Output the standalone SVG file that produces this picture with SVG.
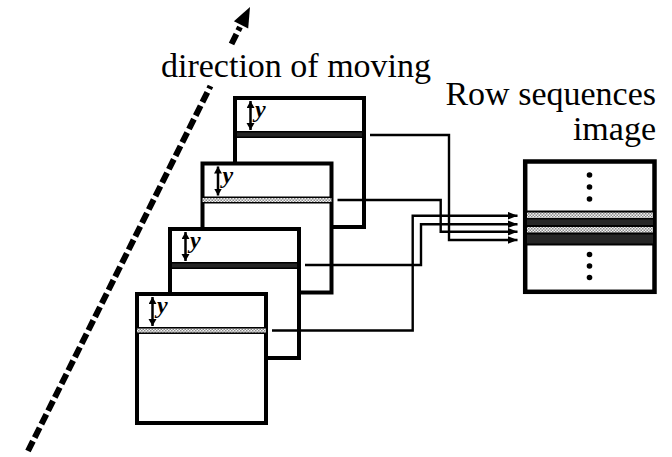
<svg xmlns="http://www.w3.org/2000/svg" width="672" height="457" viewBox="0 0 672 457">
<defs>
<pattern id="dots" width="3" height="3" patternUnits="userSpaceOnUse">
<rect width="3" height="3" fill="#f2f2f2"/>
<rect width="1.5" height="1.5" fill="#8a8a8a"/>
<rect x="1.5" y="1.5" width="1.5" height="1.5" fill="#8a8a8a"/>
</pattern>
<marker id="ah" markerUnits="userSpaceOnUse" markerWidth="11" markerHeight="9" refX="10" refY="4" orient="auto">
<path d="M0,0 L10,4 L0,8 Z" fill="#000"/>
</marker>
<marker id="yh" markerUnits="userSpaceOnUse" markerWidth="9" markerHeight="9" refX="7" refY="4" orient="auto-start-reverse">
<path d="M0,0 L7,4 L0,8 Z" fill="#000"/>
</marker>
</defs>
<style>
.frame{fill:#fff;stroke:#000;stroke-width:4}
.sb{fill:#000}
.light{fill:url(#dots)}
.dark{fill:#262626}
.yarr{stroke:#000;stroke-width:2.5;fill:none;marker-start:url(#yh);marker-end:url(#yh)}
.ylab{font-family:"Liberation Serif",serif;font-style:italic;font-weight:bold;font-size:24px;fill:#000}
.lbl{font-family:"Liberation Serif",serif;font-size:34px;fill:#000}
.conn{fill:none;stroke:#000;stroke-width:2.4;marker-end:url(#ah)}
.dash{stroke:#000;stroke-width:6;stroke-dasharray:11 4;fill:none}
.dot{fill:#000}
</style>

<g id="direction-arrow">
<line class="dash" x1="28" y1="451" x2="210.5" y2="86"/>
<line class="dash" x1="231.5" y1="44" x2="240" y2="27"/>
<polygon points="250,7 248.2,28.5 233.9,21.3" fill="#000"/>
<text class="lbl" x="161" y="77">direction of moving</text>
</g>

<g id="frame1">
<rect class="frame" x="235" y="98" width="129" height="129"/>
<rect class="sb" x="235" y="131" width="129" height="7"/>
<rect class="dark" x="237" y="132.5" width="125" height="4"/>
<line class="yarr" x1="250.5" y1="101" x2="250.5" y2="130"/>
<text class="ylab" x="255" y="117">y</text>
</g>

<g id="frame2">
<rect class="frame" x="202.5" y="163.5" width="129" height="129"/>
<rect class="sb" x="202.5" y="196.5" width="129" height="7"/>
<rect class="light" x="202.5" y="198" width="129" height="4"/>
<line class="yarr" x1="218" y1="166.5" x2="218" y2="195.5"/>
<text class="ylab" x="222.5" y="182.5">y</text>
</g>

<g id="frame3">
<rect class="frame" x="170" y="229" width="129" height="129"/>
<rect class="sb" x="170" y="262" width="129" height="7"/>
<rect class="dark" x="172" y="263.5" width="125" height="4"/>
<line class="yarr" x1="185.5" y1="232" x2="185.5" y2="261"/>
<text class="ylab" x="190" y="248">y</text>
</g>

<g id="frame4">
<rect class="frame" x="137" y="294" width="129" height="129"/>
<rect class="sb" x="137" y="327" width="129" height="7"/>
<rect class="light" x="137" y="328.5" width="129" height="4"/>
<line class="yarr" x1="152.5" y1="297" x2="152.5" y2="326"/>
<text class="ylab" x="157" y="313">y</text>
</g>

<g id="result-box">
<rect class="frame" x="525.2" y="161.5" width="129.3" height="130.3" style="stroke-width:4.5"/>
<rect class="sb" x="527" y="210.5" width="126" height="35"/>
<rect class="light" x="527" y="212.5" width="126" height="5.5"/>
<rect class="dark" x="527" y="219.5" width="126" height="5.5"/>
<rect class="light" x="527" y="227" width="126" height="5.5"/>
<rect class="dark" x="527" y="234.5" width="126" height="9"/>
<circle class="dot" cx="589.5" cy="175" r="2.8"/>
<circle class="dot" cx="589.5" cy="187" r="2.8"/>
<circle class="dot" cx="589.5" cy="199" r="2.8"/>
<circle class="dot" cx="589.5" cy="254.5" r="2.8"/>
<circle class="dot" cx="589.5" cy="266" r="2.8"/>
<circle class="dot" cx="589.5" cy="277.5" r="2.8"/>
<text class="lbl" x="656" y="105" text-anchor="end">Row sequences</text>
<text class="lbl" x="656" y="140" text-anchor="end">image</text>
</g>

<g id="connectors">
<path class="conn" d="M370,135 H449 V240 H517.5"/>
<path class="conn" d="M337.5,200 H440.7 V231.7 H517.5"/>
<path class="conn" d="M305,265 H421 V224.3 H517.5"/>
<path class="conn" d="M272,330.5 H412.7 V215.7 H517.5"/>
</g>
</svg>
